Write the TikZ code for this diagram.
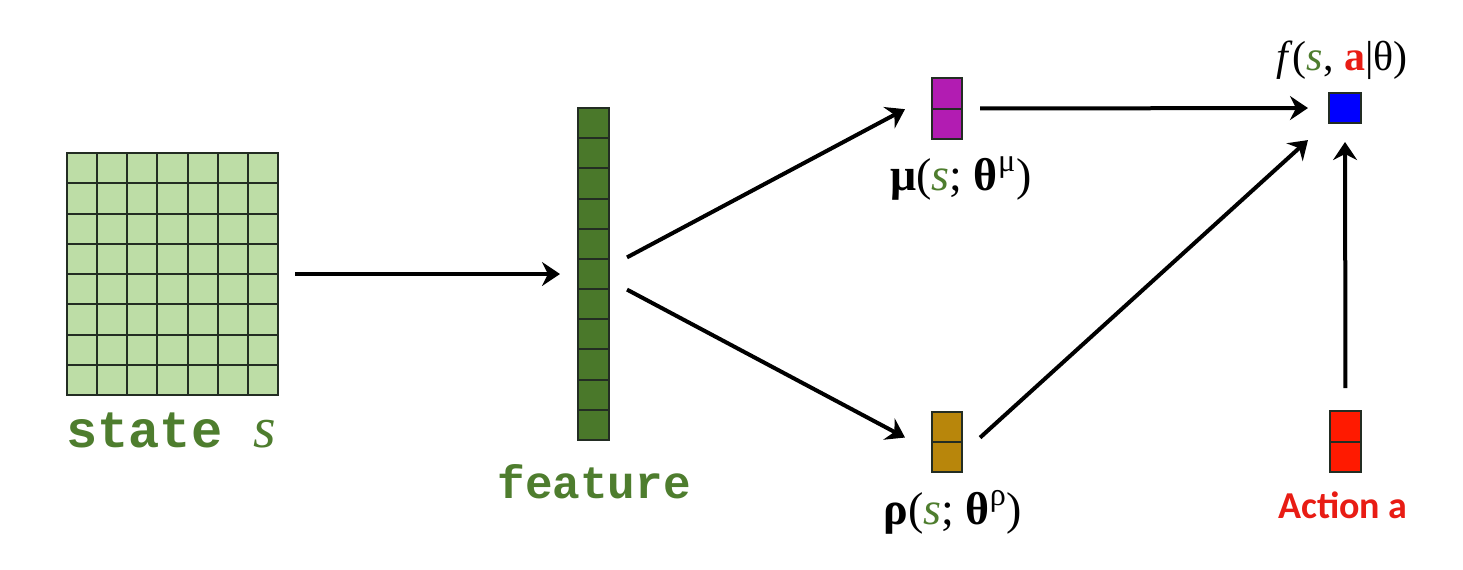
\documentclass[tikz,border=0pt]{standalone}
\usepackage{fontspec}
\newfontfamily\cour{Liberation Mono}
\newfontfamily\carl{Carlito}
\newfontfamily\lser{Liberation Serif}
\usetikzlibrary{arrows.meta,calc}
\definecolor{lgreen}{RGB}{189,221,166}
\definecolor{dgreen}{RGB}{74,120,42}
\definecolor{tgreen}{RGB}{78,125,46}
\definecolor{mpurple}{RGB}{178,28,178}
\definecolor{rgold}{RGB}{184,134,11}
\definecolor{bblue}{RGB}{0,0,255}
\definecolor{rred}{RGB}{255,26,0}
\definecolor{tred}{RGB}{232,28,20}
\definecolor{gline}{RGB}{35,45,35}
\tikzset{
  cellbox/.style={draw=gline, line width=0.7pt, inner sep=0pt, outer sep=0pt},
  gridline/.style={draw=gline, line width=1pt},
  arr/.style={line width=2pt, -{Stealth[length=9pt,width=12pt,inset=3pt]}},
}
\begin{document}
\begin{tikzpicture}[x=0.5pt,y=-0.5pt]
\useasboundingbox (0,0) rectangle (1463,569);
% state grid
\node[cellbox, fill=lgreen, minimum width=105.5pt, minimum height=121pt] (state) at (172.5,274) {};
\foreach \i in {1,...,6}
  \draw[gridline] ($(state.north west)!\i/7!(state.north east)$) -- ($(state.south west)!\i/7!(state.south east)$);
\foreach \j in {1,...,7}
  \draw[gridline] ($(state.north west)!\j/8!(state.south west)$) -- ($(state.north east)!\j/8!(state.south east)$);
\node[anchor=base west, inner sep=0pt, text=tgreen] (statelbl) at (66,447)
  {\fontsize{26}{30}\selectfont\cour\bfseries state {\lser\mdseries\itshape\fontsize{29}{30}\selectfont s}};
% feature
\node[cellbox, fill=dgreen, minimum width=15.5pt, minimum height=166pt] (feature) at (593.5,274) {};
\foreach \j in {1,...,10}
  \draw[gridline] ($(feature.north west)!\j/11!(feature.south west)$) -- ($(feature.north east)!\j/11!(feature.south east)$);
\node[anchor=base west, inner sep=0pt, text=tgreen] (featlbl) at (497,498)
  {\fontsize{23}{28}\selectfont\cour\bfseries feature};
% mu
\node[cellbox, fill=mpurple, minimum width=15pt, minimum height=30.5pt] (mu) at (947,108.5) {};
\draw[gridline] (mu.west) -- (mu.east);
\node[anchor=base, inner sep=0pt] (mulbl) at (961,190)
  {\fontsize{23}{27}\selectfont\lser\textbf{μ}(\textcolor{tgreen}{\textit{s}}; \textbf{θ}\textsuperscript{μ})};
% rho
\node[cellbox, fill=rgold, minimum width=15pt, minimum height=30pt] (rho) at (947,442) {};
\draw[gridline] (rho.west) -- (rho.east);
\node[anchor=base, inner sep=0pt] (rholbl) at (953,524)
  {\fontsize{23}{27}\selectfont\lser\textbf{ρ}(\textcolor{tgreen}{\textit{s}}; \textbf{θ}\textsuperscript{ρ})};
% output
\node[cellbox, fill=bblue, minimum width=16pt, minimum height=15pt] (blue) at (1345,108) {};
\node[anchor=base, inner sep=0pt] (flbl) at (1342,70)
  {\fontsize{21}{25}\selectfont\lser\textit{f}(\textcolor{tgreen}{\textit{s}}, \textcolor{tred}{\textbf{a}}|θ)};
% action
\node[cellbox, fill=rred, minimum width=15.5pt, minimum height=30.5pt] (red) at (1345.5,441.5) {};
\draw[gridline] (red.west) -- (red.east);
\node[anchor=base, inner sep=0pt, text=tred] (actlbl) at (1343,518)
  {\fontsize{19}{23}\selectfont\carl\bfseries Action a};
% connectors
\coordinate (fu) at ([yshift=3.5pt]feature.east);
\coordinate (fd) at ([yshift=-3pt]feature.east);
\coordinate (mt) at ($(mu.west)!0.45!(mu.north west)$);
\coordinate (rt) at ($(rho.west)!0.33!(rho.south west)$);
\coordinate (rs) at ([yshift=-6pt]rho.east);
\coordinate (bt) at ([yshift=1pt]blue.south west);
\draw[arr, shorten <=8.5pt, shorten >=9pt] (state.east) -- (feature.west);
\draw[arr, shorten <=10.2pt, shorten >=15.3pt] (fu) -- (mt);
\draw[arr, shorten <=10.2pt, shorten >=15.3pt] (fd) -- (rt);
\draw[arr, shorten <=9pt, shorten >=10.5pt] (mu.east) -- (blue.west);
\draw[arr, shorten <=12.2pt, shorten >=14.2pt] (rs) -- (bt);
\draw[arr, shorten <=11.5pt, shorten >=9.5pt] (red.north) -- (blue.south);
\end{tikzpicture}
\end{document}
